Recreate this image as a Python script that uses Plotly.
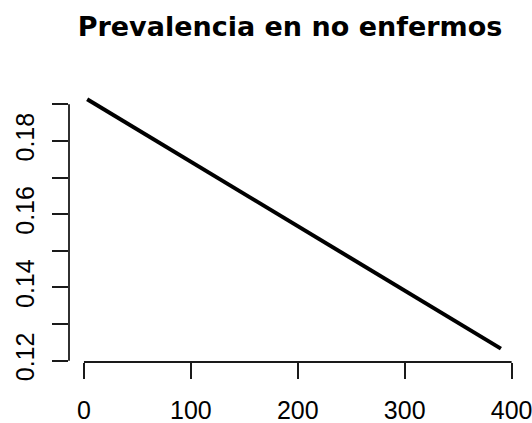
import plotly.graph_objects as go

# Prevalence among non-diseased as a function of sample index
x_vals = [3, 390]
prevalence = [0.1914, 0.1233]

x_ticks = [0, 100, 200, 300, 400]
y_ticks = [0.12, 0.13, 0.14, 0.15, 0.16, 0.17, 0.18, 0.19]
y_tick_text = ["0.12", "", "0.14", "", "0.16", "", "0.18", ""]

title_text = "Prevalencia en no enfermos"

title_font = "DejaVu Sans, Liberation Sans, sans-serif"
tick_font = "Liberation Sans, Arial, sans-serif"
axis_color = "#1a1a1a"

fig = go.Figure()
fig.add_trace(go.Scatter(
    x=x_vals, y=prevalence, mode="lines",
    line=dict(color="black", width=4),
    showlegend=False, hoverinfo="skip",
))

fig.update_layout(
    width=532, height=423,
    margin=dict(l=69, r=14, t=89, b=61),
    paper_bgcolor="white", plot_bgcolor="white",
    font=dict(family=tick_font, color="black", size=25),
    title=dict(
        text="<b>" + title_text + "</b>",
        x=290 / 532, xref="container", xanchor="center",
        y=1 - 27 / 423, yref="container", yanchor="middle",
        font=dict(size=27, family=title_font, color="black"),
    ),
    xaxis=dict(
        range=[-14, 406], showgrid=False, zeroline=False, showline=False,
        automargin=False, ticklabeloverflow="allow",
        tickmode="array", tickvals=x_ticks, ticktext=[str(v) for v in x_ticks],
        ticks="outside", ticklen=16, tickwidth=1.8, tickcolor=axis_color,
        tickfont=dict(size=25, family=tick_font), ticklabelstandoff=10,
    ),
    yaxis=dict(
        range=[0.11964, 0.19418], showgrid=False, zeroline=False, showline=False,
        automargin=False, ticklabeloverflow="allow",
        tickmode="array", tickvals=y_ticks, ticktext=y_tick_text,
        ticks="outside", ticklen=16, tickwidth=1.8, tickcolor=axis_color,
        tickangle=-90, tickfont=dict(size=25, family=tick_font), ticklabelstandoff=8,
    ),
)

# Axis lines spanning only the tick range
fig.add_shape(type="line", xref="x", yref="paper",
              x0=x_ticks[0], x1=x_ticks[-1], y0=0, y1=0,
              line=dict(color=axis_color, width=1.8))
fig.add_shape(type="line", xref="paper", yref="y",
              x0=0, x1=0, y0=y_ticks[0], y1=y_ticks[-1],
              line=dict(color=axis_color, width=1.8))

fig.write_html("out.html")
